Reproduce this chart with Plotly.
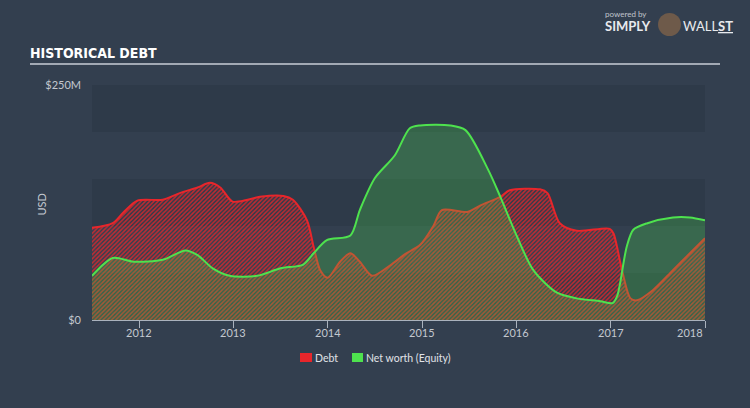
import plotly.graph_objects as go

# ---- data ----
debt_t = [2011.50, 2011.72, 2011.83, 2011.98, 2012.25, 2012.43, 2012.62, 2012.75, 2012.86, 2012.99,
          2013.15, 2013.28, 2013.53, 2013.63, 2013.78, 2013.85, 2013.92, 2014.00, 2014.13, 2014.24,
          2014.34, 2014.47, 2014.66, 2014.82, 2014.98, 2015.12, 2015.21, 2015.48, 2015.62, 2015.83,
          2015.93, 2016.25, 2016.33, 2016.46, 2016.64, 2016.99, 2017.03, 2017.12, 2017.21, 2017.28,
          2017.45, 2017.66, 2017.84, 2018.00]
debt_v = [98, 103, 114, 127, 128, 135, 141, 146, 141, 126,
          128, 131, 132, 128, 106, 78, 53, 45, 62, 71,
          62, 47, 58, 70, 80, 100, 117, 115, 122, 131,
          138, 139, 135, 103, 95, 97, 92, 53, 23, 21,
          32, 53, 71, 87]

equity_t = [2011.50, 2011.72, 2011.94, 2012.25, 2012.49, 2012.62, 2012.78, 2012.96, 2013.25, 2013.50,
            2013.74, 2013.85, 2013.99, 2014.24, 2014.34, 2014.50, 2014.71, 2014.87, 2014.98, 2015.30,
            2015.46, 2015.70, 2015.83, 2016.01, 2016.18, 2016.43, 2016.64, 2016.89, 2017.02, 2017.07,
            2017.17, 2017.24, 2017.39, 2017.66, 2017.84, 2018.00]
equity_v = [47, 66, 62, 64, 74, 69, 55, 47, 47, 55,
            59, 71, 85, 90, 117, 151, 175, 204, 207, 207,
            202, 160, 131, 88, 53, 29, 23, 20, 18, 26,
            78, 96, 103, 109, 109, 106]

year_ticks = [2012, 2013, 2014, 2015, 2016, 2017, 2018]
year_labels = ["2012", "2013", "2014", "2015", "2016", "2017", "2018"]
y_ticks = [0, 250]
y_labels = ["$0", "$250M"]
band_ranges = [(200, 250), (100, 150), (0, 50)]
series_names = ["Debt", "Net worth (Equity)"]

BG = "#333f4f"
BAND = "#2e3a49"
RED = "#e8262b"
GREEN = "#4ee24e"
TXT = "#c3c8cf"

L, R, T, B = 92, 705, 85, 320


def px(x):
    return (x - L) / (R - L)


def py(y):
    return (B - y) / (B - T)


fig = go.Figure()

# Debt (hatched)
fig.add_trace(go.Scatter(
    x=debt_t, y=debt_v, mode="lines", fill="tozeroy", name=series_names[0],
    line=dict(color=RED, width=2, shape="spline", smoothing=0.8),
    fillcolor="rgba(0,0,0,0)",
    fillpattern=dict(shape="/", fgcolor=RED, bgcolor="rgba(0,0,0,0)", size=3, solidity=0.5, fgopacity=0.8),
    showlegend=False, hoverinfo="skip"))

# Equity
fig.add_trace(go.Scatter(
    x=equity_t, y=equity_v, mode="lines", fill="tozeroy", name=series_names[1],
    line=dict(color=GREEN, width=2, shape="spline", smoothing=0.8),
    fillcolor="rgba(76,226,76,0.25)",
    showlegend=False, hoverinfo="skip"))

shapes = []
for y0, y1 in band_ranges:
    shapes.append(dict(type="rect", xref="x", yref="y", x0=2011.5, x1=2018.0, y0=y0, y1=y1,
                       fillcolor=BAND, line=dict(width=0), layer="below"))
# header rule
shapes.append(dict(type="line", xref="paper", yref="paper", x0=px(30), x1=px(720), y0=py(64), y1=py(64),
                   line=dict(color="#c9ced6", width=1.5)))
# logo bull placeholder
shapes.append(dict(type="circle", xref="paper", yref="paper",
                   x0=px(658), x1=px(681), y0=py(36), y1=py(13),
                   fillcolor="#6e5a4a", line=dict(width=0)))
# manual legend swatches
shapes.append(dict(type="rect", xref="paper", yref="paper", x0=px(300), x1=px(312), y0=py(362), y1=py(353),
                   fillcolor=RED, line=dict(width=0)))
shapes.append(dict(type="rect", xref="paper", yref="paper", x0=px(352), x1=px(363), y0=py(362), y1=py(353),
                   fillcolor=GREEN, line=dict(width=0)))

annotations = []
for t, lab in zip(year_ticks, year_labels):
    last = t == year_ticks[-1]
    annotations.append(dict(x=t, xref="x", y=0, yref="y", text=lab, showarrow=False,
                            xanchor="right" if last else "center", yanchor="middle",
                            yshift=-12, font=dict(size=11, color=TXT, family="Lato")))
annotations += [
    dict(x=px(30), y=py(53), xref="paper", yref="paper", text="<b>HISTORICAL DEBT</b>",
         showarrow=False, xanchor="left", yanchor="middle", xshift=-2,
         font=dict(size=14, color="#ffffff", family="Liberation Sans Narrow, DejaVu Sans Condensed")),
    dict(x=px(32), y=py(205), xref="paper", yref="paper", text="USD",
         textangle=-90, showarrow=False, font=dict(size=11, color=TXT, family="Lato")),
    dict(x=px(605), y=py(14), xref="paper", yref="paper", text="powered by", xshift=-2,
         showarrow=False, xanchor="left", yanchor="middle", font=dict(size=8, color="#c0c5cc", family="Lato")),
    dict(x=px(605), y=py(26), xref="paper", yref="paper", text="<b>SIMPLY</b>", xshift=-2,
         showarrow=False, xanchor="left", yanchor="middle", font=dict(size=13, color="#e8eaee", family="Lato")),
    dict(x=px(683), y=py(26), xref="paper", yref="paper", text="WALL<b><u>ST</u></b>", xshift=-2,
         showarrow=False, xanchor="left", yanchor="middle", font=dict(size=13, color="#e8eaee", family="Lato")),
    dict(x=px(315), y=py(358), xref="paper", yref="paper", text=series_names[0], xshift=-2,
         showarrow=False, xanchor="left", yanchor="middle", font=dict(size=10.5, color="#e0e3e8", family="Lato")),
    dict(x=px(366), y=py(358), xref="paper", yref="paper", text=series_names[1], xshift=-2,
         showarrow=False, xanchor="left", yanchor="middle", font=dict(size=10.5, color="#e0e3e8", family="Lato")),
]

fig.update_layout(
    width=750, height=408,
    margin=dict(l=L, r=750 - R, t=T, b=408 - B),
    paper_bgcolor=BG, plot_bgcolor=BG,
    shapes=shapes, annotations=annotations, showlegend=False,
    xaxis=dict(range=[2011.5, 2018.0], tickvals=year_ticks, showticklabels=False, ticks="outside",
               ticklen=7, tickcolor="#aab2bd", showgrid=False, zeroline=False,
               showline=True, linecolor="#aab2bd", linewidth=1),
    yaxis=dict(range=[0, 250], tickvals=y_ticks, ticktext=y_labels, showgrid=False, zeroline=False,
               showline=False, ticks="", ticklabelstandoff=10,
               tickfont=dict(size=11, color=TXT, family="Lato")),
)

fig.write_html("out.html")
